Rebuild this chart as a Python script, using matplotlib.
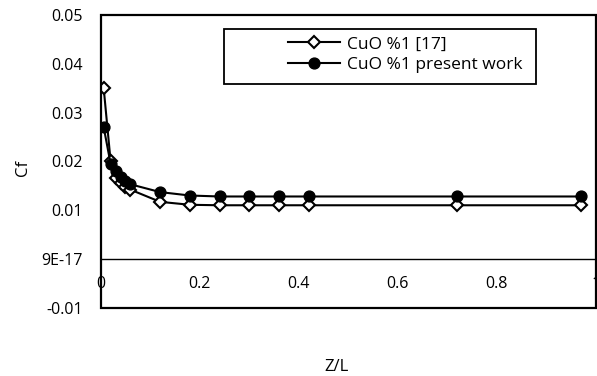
import matplotlib

matplotlib.use("Agg")
import matplotlib.pyplot as plt
from matplotlib.patches import Rectangle

plt.rcParams["font.family"] = ["Open Sans", "DejaVu Sans"]

TICK_SIZE = 11.5
LEGEND_SIZE = 12.5
LABEL_SIZE = 12

z_over_l = [0.006, 0.02, 0.03, 0.04, 0.05, 0.06, 0.12, 0.18, 0.24, 0.30, 0.36, 0.42, 0.72, 0.97]
cf_ref17 = [0.035, 0.0200, 0.0165, 0.0155, 0.0147, 0.0142, 0.0117, 0.0111, 0.0110, 0.0110,
            0.0110, 0.0110, 0.0110, 0.0110]
cf_present = [0.0270, 0.0195, 0.0180, 0.0168, 0.0160, 0.0153, 0.0137, 0.0130, 0.0128, 0.0128,
              0.0128, 0.0128, 0.0128, 0.0128]

x_ticks = [0, 0.2, 0.4, 0.6, 0.8, 1]
x_tick_labels = ["0", "0.2", "0.4", "0.6", "0.8", "1"]
y_ticks = [-0.01, 0.0, 0.01, 0.02, 0.03, 0.04, 0.05]
y_tick_labels = ["-0.01", "9E-17", "0.01", "0.02", "0.03", "0.04", "0.05"]
series_labels = ["CuO %1 [17]", "CuO %1 present work"]

fig = plt.figure(figsize=(5.97, 3.76), dpi=100, facecolor="white")
ax = fig.add_axes([0.1687, 0.1816, 0.8295, 0.7785])

ax.plot(z_over_l, cf_ref17, color="black", lw=1.5, marker="D", ms=6.5,
        mfc="white", mec="black", mew=1.5, label=series_labels[0], zorder=3)
ax.plot(z_over_l, cf_present, color="black", lw=1.5, marker="o", ms=7.8,
        mfc="black", mec="black", label=series_labels[1], zorder=4)

ax.set_xlim(0, 1)
ax.set_ylim(-0.01, 0.05)
ax.set_xticks(x_ticks, x_tick_labels)
ax.set_yticks(y_ticks, y_tick_labels)
ax.tick_params(axis="both", length=0, labelsize=TICK_SIZE)
ax.tick_params(axis="y", pad=13)
ax.tick_params(axis="x", pad=12)

# Excel style: horizontal axis crosses at zero, plot area boxed separately
for side in ("top", "right", "left"):
    ax.spines[side].set_visible(False)
ax.spines["bottom"].set_position(("data", 0))
ax.spines["bottom"].set_linewidth(1.0)
ax.add_patch(Rectangle((0, 0), 1, 1, transform=ax.transAxes, fill=False,
                       ec="black", lw=1.6, clip_on=False, zorder=5))

# legend with its own frame
ax.add_patch(Rectangle((0.249, 0.764), 0.63, 0.188, transform=ax.transAxes,
                       fc="white", ec="black", lw=1.3, zorder=6))
leg = ax.legend(loc="upper left", bbox_to_anchor=(0.378, 0.927), frameon=False,
                borderpad=0, borderaxespad=0, handlelength=3.0, handletextpad=0.4,
                labelspacing=0.25, fontsize=LEGEND_SIZE)
leg.set_zorder(7)

fig.text(0.563, 0.025, "Z/L", ha="center", va="center", fontsize=LABEL_SIZE)
fig.text(0.038, 0.553, "Cf", ha="center", va="center", rotation=90, fontsize=LABEL_SIZE)

fig.savefig("out.png", dpi=100, facecolor=fig.get_facecolor())
